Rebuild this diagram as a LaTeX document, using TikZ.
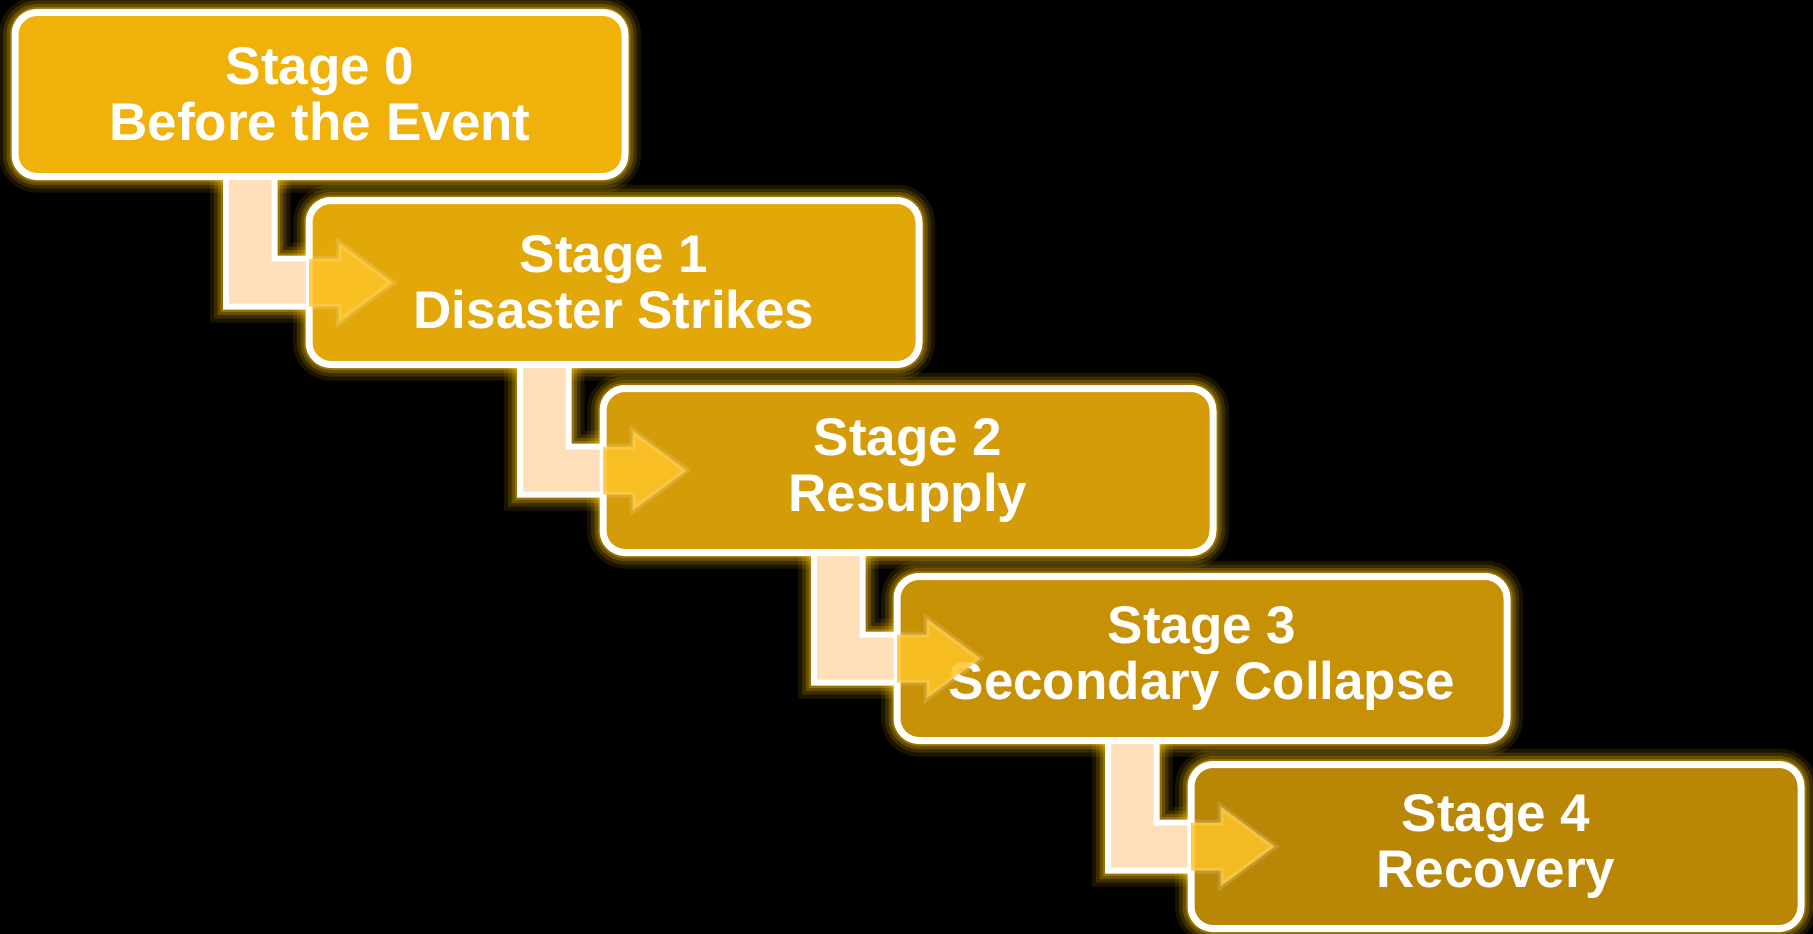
\documentclass[tikz,border=0pt]{standalone}
\usepackage{fontspec}
\setmainfont{Liberation Sans}
\usetikzlibrary{calc}
\pgfdeclarelayer{glowlayer}
\pgfdeclarelayer{arrowlayer}
\pgfdeclarelayer{frontlayer}
\pgfsetlayers{glowlayer,arrowlayer,main,frontlayer}
\definecolor{b0}{RGB}{240,178,10}
\definecolor{b1}{RGB}{226,167,9}
\definecolor{b2}{RGB}{212,156,8}
\definecolor{b3}{RGB}{199,145,6}
\definecolor{b4}{RGB}{185,134,5}
\definecolor{peach}{RGB}{255,222,186}
\definecolor{glowc}{RGB}{255,196,0}
\definecolor{headc}{RGB}{255,196,40}
\newcommand\arrowpath[2]{($(#2.west |- #1.south)+(-83,-20)$) -- ($(#2.west)+(-83,24)$) -- ($(#2.west)+(29.5,24)$) -- ($(#2.west)+(29.5,40)$) -- ($(#2.west)+(83.5,0)$) -- ($(#2.west)+(29.5,-40)$) -- ($(#2.west)+(29.5,-24)$) -- ($(#2.west)+(-34.5,-24)$) -- ($(#2.west |- #1.south)+(-34.5,-20)$) -- cycle}
\tikzset{
  stagebox/.style={draw=white, line width=7pt, rounded corners=22pt, minimum width=610pt, minimum height=164pt, outer sep=0pt, inner sep=0pt, text=white, font=\bfseries\fontsize{53}{56}\selectfont, align=center},
  glowA/.style={draw=glowc, line width=32pt, opacity=0.1},
  glowB/.style={draw=glowc, line width=24pt, opacity=0.15},
  glowC/.style={draw=glowc, line width=17pt, opacity=0.22},
  glowD/.style={draw=glowc, line width=11pt, opacity=0.3},
  arrowbody/.style={fill=peach, draw=white, line width=6pt, line join=miter},
  arrowhi/.style={fill=headc, fill opacity=0.85, draw=white, draw opacity=0.15, line width=6pt, line join=miter}
}
\begin{document}
\begin{tikzpicture}[x=1pt,y=-1pt]
\begin{pgfonlayer}{glowlayer}
\fill[black] (0,0) rectangle (1813,934);
\end{pgfonlayer}
\useasboundingbox (0,0) rectangle (1813,934);
\node[stagebox, fill=b0] (s0) at (320,94.5) {Stage 0\\Before the Event};
\node[stagebox, fill=b1] (s1) at (614,282.5) {Stage 1\\Disaster Strikes};
\node[stagebox, fill=b2] (s2) at (908,470.5) {Stage 2\\Resupply};
\node[stagebox, fill=b3] (s3) at (1202,658.5) {Stage 3\\Secondary Collapse};
\node[stagebox, fill=b4] (s4) at (1496,846.5) {Stage 4\\Recovery};
\begin{pgfonlayer}{glowlayer}
\foreach \i in {0,...,4}{
  \foreach \g in {glowA,glowB,glowC,glowD}{
    \draw[\g, rounded corners=22pt] (s\i.south west) rectangle (s\i.north east);
  }
}
\foreach \i [evaluate=\i as \j using int(\i+1)] in {0,...,3}{
  \foreach \g in {glowA,glowB,glowC,glowD}{
    \draw[\g, line join=miter] \arrowpath{s\i}{s\j};
  }
}
\end{pgfonlayer}
\begin{pgfonlayer}{arrowlayer}
\foreach \i [evaluate=\i as \j using int(\i+1)] in {0,...,3}{
  \path[arrowbody] \arrowpath{s\i}{s\j};
}
\end{pgfonlayer}
\begin{pgfonlayer}{frontlayer}
\foreach \i [evaluate=\i as \j using int(\i+1)] in {0,...,3}{
  \begin{scope}
    \clip[rounded corners=22pt] (s\j.south west) rectangle (s\j.north east);
    \path[arrowhi] \arrowpath{s\i}{s\j};
  \end{scope}
}
\end{pgfonlayer}
\end{tikzpicture}
\end{document}
